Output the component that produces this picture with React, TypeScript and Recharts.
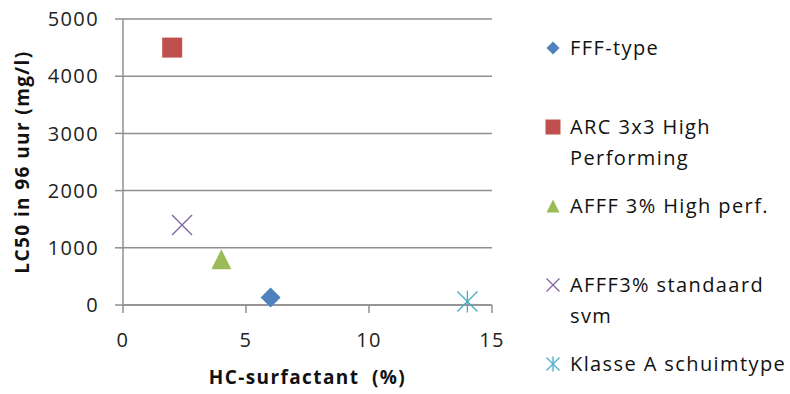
import React from "react";
import { CartesianGrid, Label, Scatter, ScatterChart, XAxis, YAxis } from "recharts";

const seriesNames = [
  "FFF-type",
  "ARC 3x3 High Performing",
  "AFFF 3% High perf.",
  "AFFF3% standaard svm",
  "Klasse A schuimtype",
];
const legendLines = [
  ["FFF-type"],
  ["ARC 3x3 High", "Performing"],
  ["AFFF 3% High perf."],
  ["AFFF3% standaard", "svm"],
  ["Klasse A schuimtype"],
];
const surfactantPct = [6, 2, 4, 2.4, 14];
const lc50 = [130, 4500, 800, 1400, 60];
const markerKinds = ["diamond", "square", "triangle", "cross", "star"];
const seriesColors = ["#4F81BD", "#C0504D", "#9BBB59", "#8064A2", "#4BACC6"];

const xTicks = [0, 5, 10, 15];
const yTicks = [0, 1000, 2000, 3000, 4000, 5000];

const FONT = "'Open Sans', sans-serif";
const GRID = "#8f8f8f";

function drawMarker(kind: string, color: string, cx: number, cy: number, s: number) {
  const h = s / 2;
  switch (kind) {
    case "diamond":
      return <polygon points={`${cx},${cy - h} ${cx + h},${cy} ${cx},${cy + h} ${cx - h},${cy}`} fill={color} />;
    case "square":
      return <rect x={cx - h} y={cy - h} width={s} height={s} fill={color} />;
    case "triangle":
      return <polygon points={`${cx},${cy - h} ${cx + h},${cy + h} ${cx - h},${cy + h}`} fill={color} />;
    case "cross":
      return (
        <g stroke={color} strokeWidth={1.3}>
          <line x1={cx - h} y1={cy - h} x2={cx + h} y2={cy + h} />
          <line x1={cx - h} y1={cy + h} x2={cx + h} y2={cy - h} />
        </g>
      );
    default:
      return (
        <g stroke={color} strokeWidth={1.3}>
          <line x1={cx - h} y1={cy - h} x2={cx + h} y2={cy + h} />
          <line x1={cx - h} y1={cy + h} x2={cx + h} y2={cy - h} />
          <line x1={cx} y1={cy - h - 1} x2={cx} y2={cy + h + 1} />
        </g>
      );
  }
}

const LegendBox = () => (
  <div
    style={{
      position: "absolute",
      left: 540,
      top: 0,
      width: 250,
      height: 394,
      fontFamily: FONT,
      fontSize: 20,
      letterSpacing: 1.4,
      color: "#111",
    }}
  >
    {seriesNames.map((name, i) => (
      <div key={name} style={{ position: "absolute", left: 0, top: 32 + i * 79, lineHeight: "31px" }}>
        <svg width={20} height={20} style={{ position: "absolute", left: 3, top: 6 }}>
          {drawMarker(markerKinds[i], seriesColors[i], 10, 10, markerKinds[i] === "square" ? 15 : 13)}
        </svg>
        <div style={{ marginLeft: 30, whiteSpace: "nowrap" }}>
          {legendLines[i].map((l) => (
            <div key={l}>{l}</div>
          ))}
        </div>
      </div>
    ))}
  </div>
);

export default function App() {
  return (
    <div style={{ position: "absolute", left: 0, top: 0, width: 790, height: 394, background: "#fff" }}>
      <ScatterChart width={790} height={394} margin={{ top: 19, right: 298, bottom: 0, left: 0 }}>
        <CartesianGrid horizontal vertical={false} stroke={GRID} strokeWidth={1.5} />
        <XAxis
          type="number"
          dataKey="x"
          domain={[0, 15]}
          ticks={xTicks}
          height={89}
          tickSize={8}
          tickMargin={20}
          stroke={GRID}
          strokeWidth={1.5}
          tick={{ fill: "#222", fontSize: 20, fontFamily: FONT, letterSpacing: 1.4 }}
          interval={0}
        >
          <Label
            value={"HC-surfactant\u00a0 (%)"}
            position="insideBottom"
            offset={10}
            style={{ fontWeight: 700, fontSize: 19, fontFamily: FONT, fill: "#111", letterSpacing: 1.4 }}
          />
        </XAxis>
        <YAxis
          type="number"
          dataKey="y"
          domain={[0, 5000]}
          ticks={yTicks}
          width={123}
          tickSize={8}
          tickMargin={16}
          stroke={GRID}
          strokeWidth={1.5}
          tick={{ fill: "#222", fontSize: 20, fontFamily: FONT, letterSpacing: 1.4 }}
          interval={0}
        >
          <Label
            value="LC50 in 96 uur (mg/l)"
            angle={-90}
            position="insideLeft"
            offset={22}
            style={{ textAnchor: "middle", fontWeight: 700, fontSize: 19, fontFamily: FONT, fill: "#111", letterSpacing: 1.4 }}
          />
        </YAxis>
        {seriesNames.map((name, i) => (
          <Scatter
            key={name}
            name={name}
            data={[{ x: surfactantPct[i], y: lc50[i] }]}
            fill={seriesColors[i]}
            isAnimationActive={false}
            shape={(p: any) => drawMarker(markerKinds[i], seriesColors[i], p.cx, p.cy, 20)}
          />
        ))}
      </ScatterChart>
      <LegendBox />
    </div>
  );
}
